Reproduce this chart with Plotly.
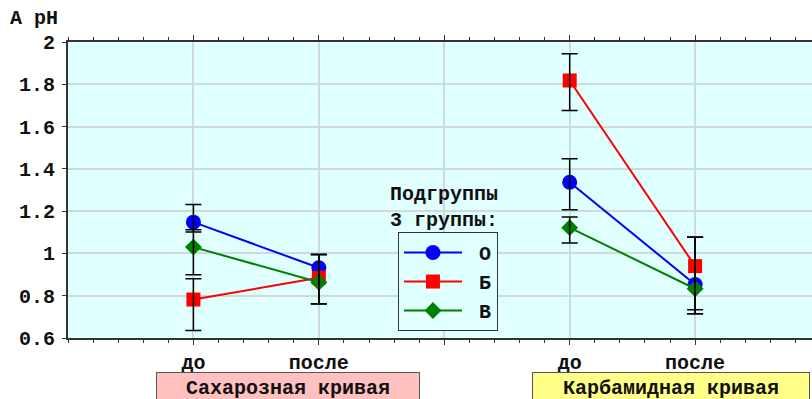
import plotly.graph_objects as go

# Category positions along x: two curves, each with "до" / "после"
x_pos = [1, 2, 4, 5]
tick_vals = [1, 2, 3, 4, 5]
tick_text = ["до", "после", "", "до", "после"]

series_names = ["О", "Б", "В"]
colors = ["#0000ff", "#ff0000", "#008000"]
symbols = ["circle", "square", "diamond"]
sizes = [15, 14, 13]

# Mean values (A pH) per subgroup
vals_O = [1.148, 0.932, 1.337, 0.853]
vals_B = [0.782, 0.885, 1.818, 0.940]
vals_V = [1.030, 0.864, 1.122, 0.833]

# Confidence bounds (upper / lower) per subgroup
upper_O = [1.232, 0.995, 1.448, 1.077]
lower_O = [1.101, 0.762, 1.207, 0.734]
upper_B = [0.880, 0.995, 1.945, 1.077]
lower_B = [0.636, 0.762, 1.676, 0.715]
upper_V = [1.112, 0.995, 1.172, 1.077]
lower_V = [0.899, 0.762, 1.049, 0.715]

y_ticks = [0.6, 0.8, 1.0, 1.2, 1.4, 1.6, 1.8, 2.0]

FONT = "Liberation Mono"
FS = 20

values = [vals_O, vals_B, vals_V]
uppers = [upper_O, upper_B, upper_V]
lowers = [lower_O, lower_B, lower_V]

fig = go.Figure()

# Lines with markers, split into the two curve segments
for i, name in enumerate(series_names):
    xs = x_pos[:2] + [None] + x_pos[2:]
    ys = values[i][:2] + [None] + values[i][2:]
    fig.add_trace(go.Scatter(
        x=xs, y=ys, name="\u00a0" + name, mode="lines+markers",
        line=dict(color=colors[i], width=2),
        marker=dict(color=colors[i], symbol=symbols[i], size=sizes[i]),
        connectgaps=False, legendgroup=name,
    ))

# Error bars drawn above all markers
for i, name in enumerate(series_names):
    v = values[i]
    fig.add_trace(go.Scatter(
        x=x_pos, y=v, mode="markers", showlegend=False, hoverinfo="skip",
        marker=dict(size=1, opacity=0),
        error_y=dict(type="data", symmetric=False,
                     array=[u - m for u, m in zip(uppers[i], v)],
                     arrayminus=[m - l for l, m in zip(lowers[i], v)],
                     color="#000000", thickness=1.5, width=8),
    ))

axis_line = "#333333"
grid = "#d0dada"
text_font = dict(family=FONT, size=FS, color="#111111", weight="bold")

fig.update_xaxes(
    range=[0, 5.932], tickmode="array", tickvals=tick_vals, ticktext=tick_text,
    showgrid=True, gridcolor=grid, gridwidth=2, zeroline=False,
    showline=True, linecolor=axis_line, linewidth=2, mirror="ticks",
    ticks="outside", ticklen=5, tickcolor=axis_line, tickwidth=1,
    minor=dict(dtick=0.2, tick0=0, ticks="outside", ticklen=3,
               tickcolor=axis_line, showgrid=False),
    tickfont=text_font, ticklabelstandoff=0,
)
fig.update_yaxes(
    range=[0.6, 2.0], tickmode="array", tickvals=y_ticks,
    ticktext=["0.6", "0.8", "1", "1.2", "1.4", "1.6", "1.8", "2"],
    showgrid=True, gridcolor=grid, gridwidth=2, zeroline=False,
    showline=True, linecolor=axis_line, linewidth=2,
    ticks="outside", ticklen=4, tickcolor=axis_line, tickwidth=1,
    tickfont=text_font, ticklabelstandoff=3,
)

annotations = [
    dict(text="A pH", xref="paper", yref="paper", x=-0.0806, y=1.081,
         xanchor="left", yanchor="middle", showarrow=False, font=text_font),
    dict(text="Подгруппы<br>3 группы:", xref="paper", yref="paper",
         x=0.4307, y=0.44, xanchor="left", yanchor="middle", align="left",
         showarrow=False, font=text_font),
    dict(text="Сахарозная кривая", xref="x", yref="paper", x=1.753,
         y=-0.1689, xanchor="center", yanchor="middle", showarrow=False,
         width=262, height=30, borderpad=0, borderwidth=1,
         bordercolor="#555555", bgcolor="#ffc0c0", font=text_font),
    dict(text="Карбамидная кривая", xref="x", yref="paper", x=4.807,
         y=-0.1689, xanchor="center", yanchor="middle", showarrow=False,
         width=276, height=30, borderpad=0, borderwidth=1,
         bordercolor="#555555", bgcolor="#ffff88", font=text_font),
]

fig.update_layout(
    width=812, height=399,
    margin=dict(l=68, r=0, t=42, b=61),
    paper_bgcolor="#ffffff", plot_bgcolor="#e0ffff",
    showlegend=True,
    legend=dict(
        x=0.4435, y=0.358, xanchor="left", yanchor="top",
        bgcolor="#e0ffff", bordercolor="#333333", borderwidth=1,
        font=text_font, itemwidth=58, tracegroupgap=2, traceorder="normal",
        entrywidth=117,
    ),
    annotations=annotations,
)

fig.write_html("out.html")
